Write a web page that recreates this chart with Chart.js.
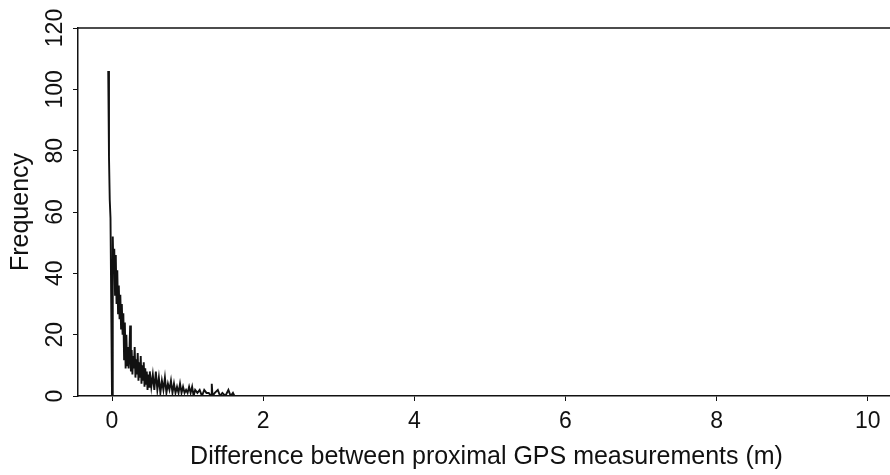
<!DOCTYPE html>
<html>
<head>
<meta charset="utf-8">
<script src="https://cdn.jsdelivr.net/npm/chart.js@4/dist/chart.umd.min.js"></script>
<style>
  html, body { margin: 0; padding: 0; background: #fff; overflow: hidden; }
  #wrap { width: 900px; height: 475px; }
</style>
</head>
<body>
<div id="wrap"><canvas id="histChart" width="900" height="475"></canvas></div>
<script>
// Difference between proximal GPS measurements (m)
const diffs = [
  -0.05, -0.04, -0.03, -0.02, 0.00,
  0.01, 0.02, 0.03, 0.04, 0.05, 0.06, 0.07, 0.08, 0.09, 0.10,
  0.11, 0.12, 0.13, 0.14, 0.15, 0.16, 0.17, 0.18, 0.19, 0.20,
  0.21, 0.22, 0.23, 0.24, 0.25, 0.26, 0.27, 0.28, 0.29, 0.30,
  0.31, 0.32, 0.33, 0.34, 0.35, 0.36, 0.37, 0.38, 0.39, 0.40,
  0.41, 0.42, 0.43, 0.44, 0.45, 0.46, 0.47, 0.48, 0.49, 0.50,
  0.52, 0.54, 0.56, 0.58, 0.60, 0.62, 0.64, 0.66, 0.68, 0.70,
  0.72, 0.74, 0.76, 0.78, 0.80, 0.82, 0.84, 0.86, 0.88, 0.90,
  0.92, 0.94, 0.96, 0.98, 1.00, 1.02, 1.04, 1.06, 1.08, 1.10,
  1.13, 1.16, 1.19, 1.22, 1.25, 1.28, 1.31, 1.32, 1.33, 1.36,
  1.40, 1.43, 1.46, 1.50, 1.54, 1.57, 1.60, 1.62
];
// Frequency
const freq = [
  106, 78, 64, 58, 0,
  52, 40, 48, 33, 46, 30, 41, 27, 36, 25,
  33, 22, 30, 20, 27, 12, 24, 9, 20, 10,
  16, 9, 14, 23, 8, 15, 7, 13, 9, 16,
  6, 12, 7, 14, 5, 11, 6, 13, 4, 10,
  5, 11, 3, 9, 4, 8, 2, 7, 3, 8,
  3, 7, 2, 8, 2, 6, 1, 5, 2, 6,
  1, 4, 2, 5, 1, 4, 1, 3, 1, 4,
  1, 3, 1, 2, 1, 3, 1, 3, 0, 2,
  1, 2, 0, 2, 1, 1, 0, 4, 0, 1,
  2, 0, 1, 0, 2, 0, 1, 0
];
const xTicks = [0, 2, 4, 6, 8, 10];
const yTicks = [0, 20, 40, 60, 80, 100, 120];

const fontFamily = '"Liberation Sans", Arial, Helvetica, sans-serif';

// top frame line
const topLine = {
  id: 'topLine',
  afterDraw(chart) {
    const { ctx, chartArea } = chart;
    ctx.save();
    ctx.strokeStyle = '#111';
    ctx.lineWidth = 1.5;
    ctx.beginPath();
    ctx.moveTo(chartArea.left, chartArea.top);
    ctx.lineTo(chartArea.right, chartArea.top);
    ctx.stroke();
    ctx.restore();
  }
};

const points = diffs.map((d, i) => ({ x: d, y: freq[i] }));

new Chart(document.getElementById('histChart').getContext('2d'), {
  type: 'line',
  data: {
    datasets: [{
      data: points,
      borderColor: '#111',
      borderWidth: 1.9,
      pointRadius: 0,
      tension: 0,
      fill: false
    }]
  },
  options: {
    responsive: false,
    animation: false,
    layout: { padding: { top: 28, right: 5, left: 0, bottom: 0 } },
    plugins: { legend: { display: false }, tooltip: { enabled: false } },
    scales: {
      x: {
        type: 'linear',
        min: -0.45,
        max: 10.36,
        afterBuildTicks: (scale) => { scale.ticks = xTicks.map(v => ({ value: v })); },
        afterFit: (scale) => { scale.height = 79; },
        grid: { drawOnChartArea: false, drawTicks: true, tickLength: 5, color: '#111' },
        border: { display: true, color: '#111', width: 1.5 },
        ticks: { color: '#111', padding: 7, font: { family: fontFamily, size: 23 }, maxRotation: 0 },
        title: {
          display: true,
          text: 'Difference between proximal GPS measurements (m)',
          color: '#111',
          font: { family: fontFamily, size: 25 },
          padding: { top: 0, bottom: 3 }
        }
      },
      y: {
        min: 0,
        max: 120,
        afterBuildTicks: (scale) => { scale.ticks = yTicks.map(v => ({ value: v })); },
        afterFit: (scale) => { scale.width = 78; },
        grid: { drawOnChartArea: false, drawTicks: true, tickLength: 5, color: '#111' },
        border: { display: true, color: '#111', width: 1.5 },
        ticks: {
          color: '#111',
          padding: -2,
          minRotation: 90,
          maxRotation: 90,
          crossAlign: 'center',
          font: { family: fontFamily, size: 23 }
        },
        title: {
          display: true,
          text: 'Frequency',
          color: '#111',
          font: { family: fontFamily, size: 25 },
          padding: { top: 6, bottom: 0 }
        }
      }
    }
  },
  plugins: [topLine]
});
</script>
</body>
</html>
